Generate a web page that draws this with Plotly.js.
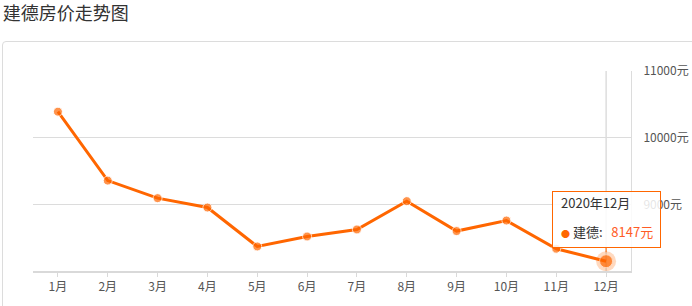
<!DOCTYPE html>
<html>
<head>
<meta charset="utf-8">
<script src="https://cdn.plot.ly/plotly-3.0.1.min.js"></script>
<style>
  html, body { margin: 0; padding: 0; background: #fff; width: 692px; height: 306px; overflow: hidden; }
  #frame { position: absolute; left: 2px; top: 41px; width: 720px; height: 300px; border: 1px solid #dcdcdc; border-radius: 4px; }
  #chart { position: absolute; left: 0; top: 0; width: 692px; height: 306px; }
</style>
</head>
<body>
<div id="frame"></div>
<div id="chart"></div>
<script>
const titleText = '建德房价走势图';
const seriesName = '建德';
const months = ['1月','2月','3月','4月','5月','6月','7月','8月','9月','10月','11月','12月'];
const prices = [10390, 9356, 9093, 8952, 8368, 8518, 8623, 9048, 8599, 8757, 8334, 8147];
const yTicks = [9000, 10000, 11000];
const yTickLabels = ['9000元', '10000元', '11000元'];
const tooltipPeriod = '2020年12月';

const last = months.length - 1;
const lineColor = '#ff6600';
const valueColor = '#ff5c26';
const fontFam = '"Noto Sans CJK SC", "Noto Sans", sans-serif';

const halo = {
  x: [months[last]], y: [prices[last]],
  type: 'scatter', mode: 'markers', hoverinfo: 'skip',
  marker: { size: 20, color: 'rgba(255,102,0,0.25)' }, showlegend: false
};
const main = {
  x: months, y: prices, type: 'scatter', mode: 'lines+markers',
  name: seriesName, hoverinfo: 'skip',
  line: { color: lineColor, width: 3 },
  marker: { color: lineColor, size: months.map((m, i) => i === last ? 13 : 9) },
  showlegend: false, cliponaxis: false
};

const tipFont = { family: fontFam, size: 13, color: '#333' };

const layout = {
  width: 692, height: 306,
  margin: { l: 33, r: 61, t: 71, b: 35 },
  paper_bgcolor: 'rgba(0,0,0,0)', plot_bgcolor: 'rgba(0,0,0,0)',
  font: { family: fontFam, color: '#555', size: 12 },
  title: {
    text: titleText, xref: 'container', yref: 'container',
    x: 0.004, xanchor: 'left', y: 1 - 14/306, yanchor: 'middle',
    font: { family: fontFam, size: 18, color: '#333' }
  },
  showlegend: false,
  hovermode: false,
  xaxis: {
    type: 'category', range: [-0.5, months.length - 0.5],
    showgrid: false, zeroline: false,
    showline: true, linecolor: '#d9d9d9', linewidth: 2,
    ticks: 'outside', ticklen: 4, tickcolor: '#d9d9d9', tickwidth: 1,
    tickfont: { size: 12, color: '#555' }, fixedrange: true
  },
  yaxis: {
    side: 'right', range: [8000, 11000],
    tickmode: 'array', tickvals: yTicks, ticktext: yTickLabels,
    showgrid: true, gridcolor: '#dcdcdc', gridwidth: 1,
    zeroline: false, showline: true, linecolor: '#dcdcdc', linewidth: 1,
    ticks: '', ticklabelstandoff: 9, automargin: false,
    tickfont: { size: 12, color: '#555' }, fixedrange: true
  },
  shapes: [{
    type: 'line', xref: 'x', yref: 'paper',
    x0: months[last], x1: months[last], y0: 0, y1: 1,
    line: { color: '#cccccc', width: 1 }, layer: 'below'
  }],
  annotations: [
    {
      x: months[last], y: prices[last], xref: 'x', yref: 'y',
      text: ' ',
      showarrow: true, arrowhead: 0, arrowwidth: 1, arrowcolor: lineColor,
      ax: 0, ay: -42, standoff: 9,
      bgcolor: 'rgba(255,255,255,0.85)', bordercolor: lineColor, borderwidth: 1, borderpad: 0,
      width: 107, height: 55,
      font: tipFont
    },
    {
      x: months[last], y: prices[last], xref: 'x', yref: 'y',
      text: tooltipPeriod, showarrow: false,
      xanchor: 'left', yanchor: 'middle', xshift: -47, yshift: 59,
      font: tipFont
    },
    {
      x: months[last], y: prices[last], xref: 'x', yref: 'y',
      text: '<span style="color:' + lineColor + ';font-size:9px">●</span> ' + seriesName +
            ':   <span style="color:' + valueColor + '">' + prices[last] + '元</span>',
      showarrow: false,
      xanchor: 'left', yanchor: 'middle', xshift: -47, yshift: 30,
      font: tipFont
    }
  ]
};

Plotly.newPlot('chart', [main, halo], layout, { displayModeBar: false, staticPlot: true });
</script>
</body>
</html>
